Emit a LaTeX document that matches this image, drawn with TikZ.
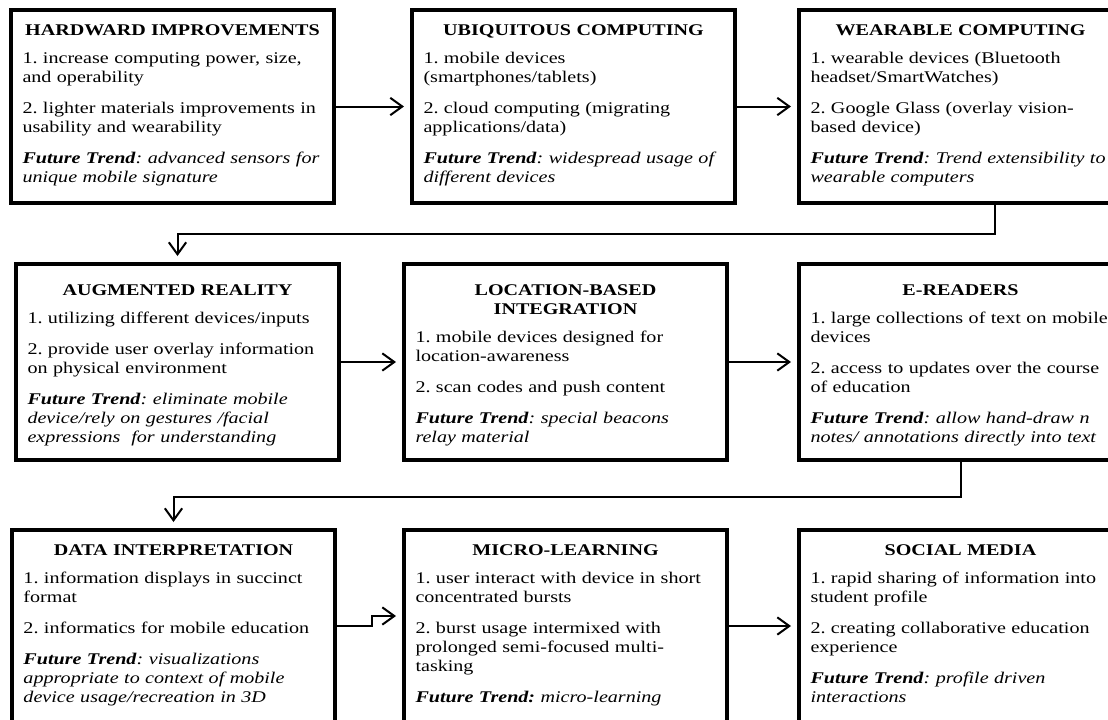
\documentclass[tikz,border=0pt]{standalone}
\usepackage{fontspec}
\setmainfont{Liberation Serif}[FakeStretch=1.23]
\usetikzlibrary{arrows.meta}

\tikzset{every picture/.style={line width=0.75pt}}
\tikzset{
  card/.style={draw, line width=3pt, anchor=north west, minimum width=242.25pt,
    text width=225pt, inner xsep=8.6pt, inner ysep=0pt, align=left,
    font=\fontsize{12.25pt}{14.25pt}\selectfont\frenchspacing},
  toprow/.style={card, text height=18.75pt, text depth=126pt},
  midrow/.style={card, text height=23.25pt, text depth=123.75pt},
  lowrow/.style={card, text height=18.75pt, text depth=125.25pt},
  flow/.style={line width=1.5pt, -{Straight Barb[length=9pt,width=13pt]}, shorten >=4.5pt}
}
\newcommand\boxhead[1]{{\centering\bfseries #1\par}\vspace{7pt}}
\newcommand\boxgap{\par\vspace{9pt}}
\newcommand\trend{\textbf{\textit{Future Trend}}}

\begin{document}
\begin{tikzpicture}[x=0.75pt,y=0.75pt,yscale=-1,xscale=1]
	\useasboundingbox (0,0) rectangle (1108,719);
	\clip (0,0) rectangle (1108,719);
	% first row
	\node[toprow] (hw) at (9,8) {\boxhead{HARDWARD IMPROVEMENTS}
		1. increase computing power, size,\\and operability\boxgap
		2. lighter materials improvements in\\usability and wearability\boxgap
		\trend\textit{: advanced sensors for\\unique mobile signature}};
	\node[toprow] (ub) at (410,8) {\boxhead{UBIQUITOUS COMPUTING}
		1. mobile devices\\(smartphones/tablets)\boxgap
		2. cloud computing (migrating\\applications/data)\boxgap
		\trend\textit{: widespread usage of\\different devices}};
	\node[toprow] (wc) at (797,8) {\boxhead{WEARABLE COMPUTING}
		1. wearable devices (Bluetooth\\headset/SmartWatches)\boxgap
		2. Google Glass (overlay vision-\\based device)\boxgap
		\trend\textit{: Trend extensibility to\\wearable computers}};
	% second row
	\node[midrow] (ar) at (14,262) {\boxhead{AUGMENTED REALITY}
		1. utilizing different devices/inputs\boxgap
		2. provide user overlay information\\on physical environment\boxgap
		\trend\textit{: eliminate mobile\\device/rely on gestures /facial\\expressions\ \ for understanding}};
	\node[midrow] (lo) at (402,262) {\boxhead{LOCATION-BASED\\INTEGRATION}
		1. mobile devices designed for\\location-awareness\boxgap
		2. scan codes and push content\boxgap
		\trend\textit{: special beacons\\relay material}};
	\node[midrow] (er) at (797,262) {\boxhead{E-READERS}
		1. large collections of text on mobile\\devices\boxgap
		2. access to updates over the course\\of education\boxgap
		\trend\textit{: allow hand-draw n\\notes/ annotations directly into text}};
	% third row
	\node[lowrow] (di) at (10,528) {\boxhead{DATA INTERPRETATION}
		1. information displays in succinct\\format\boxgap
		2. informatics for mobile education\boxgap
		\trend\textit{: visualizations\\appropriate to context of mobile\\device usage/recreation in 3D}};
	\node[lowrow] (ml) at (402,528) {\boxhead{MICRO-LEARNING}
		1. user interact with device in short\\concentrated bursts\boxgap
		2. burst usage intermixed with\\prolonged semi-focused multi-\\tasking\boxgap
		\textbf{\textit{Future Trend:}} \textit{micro-learning}};
	\node[lowrow] (sm) at (797,528) {\boxhead{SOCIAL MEDIA}
		1. rapid sharing of information into\\student profile\boxgap
		2. creating collaborative education\\experience\boxgap
		\trend\textit{: profile driven\\interactions}};
	% connectors
	\draw[flow] (hw) -- (ub);
	\draw[flow] (ub) -- (wc);
	\draw[flow] ([xshift=25.5pt]wc.south) -- ++(0,29) -| (ar.north);
	\draw[flow] (ar) -- (lo);
	\draw[flow] (lo) -- (er);
	\draw[flow] (er.south) -- ++(0,35) -| (di.north);
	\draw[flow] (di.east) -- ++(35,0) |- ([yshift=-7.5pt]ml.west);
	\draw[flow] (ml) -- (sm);
\end{tikzpicture}
\end{document}
